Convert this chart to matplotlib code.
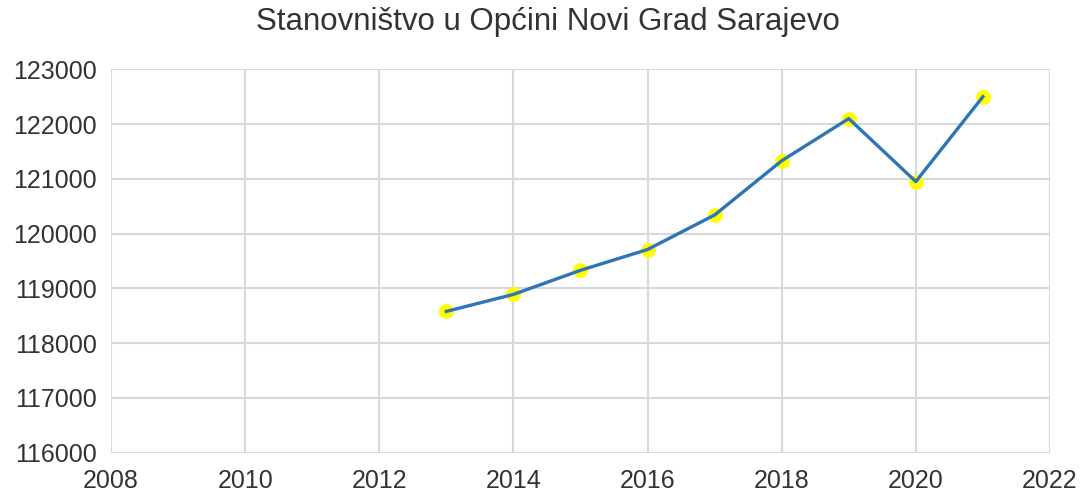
import matplotlib.pyplot as plt

# population of Novi Grad Sarajevo municipality
godine = [2013, 2014, 2015, 2016, 2017, 2018, 2019, 2020, 2021]
stanovnistvo = [118580, 118890, 119330, 119710, 120340, 121330, 122100, 120950, 122500]

x_ticks = [2008, 2010, 2012, 2014, 2016, 2018, 2020, 2022]
y_ticks = [116000, 117000, 118000, 119000, 120000, 121000, 122000, 123000]

plt.rcParams['font.family'] = ['Liberation Sans', 'DejaVu Sans']

fig = plt.figure(figsize=(10.85, 4.94), dpi=100)
ax = fig.add_axes([0.1023, 0.0836, 0.8654, 0.7761])

ax.scatter(godine, stanovnistvo, s=115, color='#ffff00', zorder=2, linewidths=0)
ax.plot(godine, stanovnistvo, color='#2e75b6', linewidth=2.4, zorder=3)

ax.set_xlim(2008, 2022)
ax.set_ylim(116000, 123000)
ax.set_xticks(x_ticks)
ax.set_yticks(y_ticks)
ax.tick_params(length=0, labelsize=18, colors='#333333')
ax.tick_params(axis='y', pad=10)
ax.tick_params(axis='x', pad=12)
ax.grid(True, color='#d9d9d9', linewidth=1.5)
ax.set_axisbelow(True)
for s in ax.spines.values():
    s.set_visible(False)

fig.text(0.505, 0.955, 'Stanovništvo u Općini Novi Grad Sarajevo', fontsize=22.5,
         color='#333333', ha='center', va='center')

fig.savefig('out.png', dpi=100)
